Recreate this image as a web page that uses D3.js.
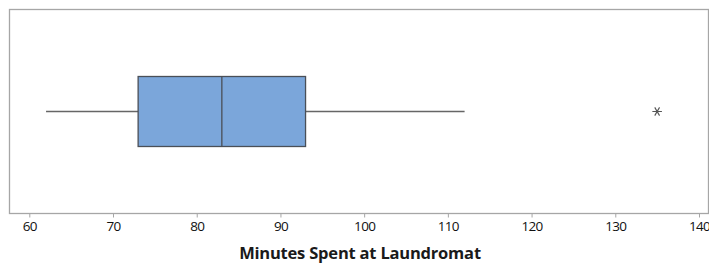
<!DOCTYPE html>
<html>
<head>
<meta charset="utf-8">
<script src="https://cdn.jsdelivr.net/npm/d3@7"></script>
<style>
  body { margin: 0; background: #fff; }
  text { font-family: "Open Sans", "Noto Sans", sans-serif; }
</style>
</head>
<body>
<script>
// box plot summary
const whiskerLow = 62;
const q1 = 73;
const median = 83;
const q3 = 93;
const whiskerHigh = 112;
const outliers = [135];
const tickValues = [60, 70, 80, 90, 100, 110, 120, 130, 140];
const axisTitle = 'Minutes Spent at Laundromat';

const width = 709;
const height = 263;
const frame = { left: 9, right: 708, top: 9.5, bottom: 213.5 };

const x = d3.scaleLinear()
  .domain([60, 140])
  .range([29.3, 699]);

const svg = d3.select('body')
  .append('svg')
  .attr('width', width)
  .attr('height', height);

// frame
svg.append('rect')
  .attr('x', frame.left + 0.5)
  .attr('y', frame.top)
  .attr('width', frame.right - frame.left)
  .attr('height', frame.bottom - frame.top)
  .attr('fill', 'none')
  .attr('stroke', '#a6a6a6')
  .attr('stroke-width', 1.3);

// axis
const axis = svg.append('g')
  .attr('transform', `translate(0, ${frame.bottom})`)
  .call(d3.axisBottom(x).tickValues(tickValues).tickSize(4).tickPadding(4));
axis.select('.domain').remove();
axis.selectAll('.tick line').attr('stroke', '#a6a6a6');
axis.selectAll('.tick text')
  .attr('fill', '#111')
  .attr('font-size', 13.5)
  .attr('font-family', '"Open Sans", sans-serif')
  .style('letter-spacing', '-0.7px');

svg.append('text')
  .attr('x', 360)
  .attr('y', 259)
  .attr('text-anchor', 'middle')
  .attr('font-size', 16.5)
  .attr('font-weight', 'bold')
  .attr('fill', '#1a1a1a')
  .style('letter-spacing', '-0.2px')
  .text(axisTitle);

const cy = 111.5;
const boxH = 70;

// whiskers
svg.append('line')
  .attr('x1', x(whiskerLow)).attr('x2', x(q1))
  .attr('y1', cy).attr('y2', cy)
  .attr('stroke', '#666').attr('stroke-width', 1.5);
svg.append('line')
  .attr('x1', x(q3)).attr('x2', x(whiskerHigh))
  .attr('y1', cy).attr('y2', cy)
  .attr('stroke', '#666').attr('stroke-width', 1.5);

// box
svg.append('rect')
  .attr('x', x(q1))
  .attr('y', cy - boxH / 2)
  .attr('width', x(q3) - x(q1))
  .attr('height', boxH)
  .attr('fill', '#7ba6da')
  .attr('stroke', '#4a4f57')
  .attr('stroke-width', 1.3);

svg.append('line')
  .attr('x1', x(median)).attr('x2', x(median))
  .attr('y1', cy - boxH / 2).attr('y2', cy + boxH / 2)
  .attr('stroke', '#4a4f57').attr('stroke-width', 1.3);

// outliers as asterisks
const star = d3.symbol().type(d3.symbolAsterisk).size(64);
svg.selectAll('path.outlier')
  .data(outliers)
  .enter()
  .append('path')
  .attr('class', 'outlier')
  .attr('transform', d => `translate(${x(d)}, ${cy}) rotate(90)`)
  .attr('d', star)
  .attr('fill', 'none')
  .attr('stroke', '#555')
  .attr('stroke-width', 1.1);
</script>
</body>
</html>
